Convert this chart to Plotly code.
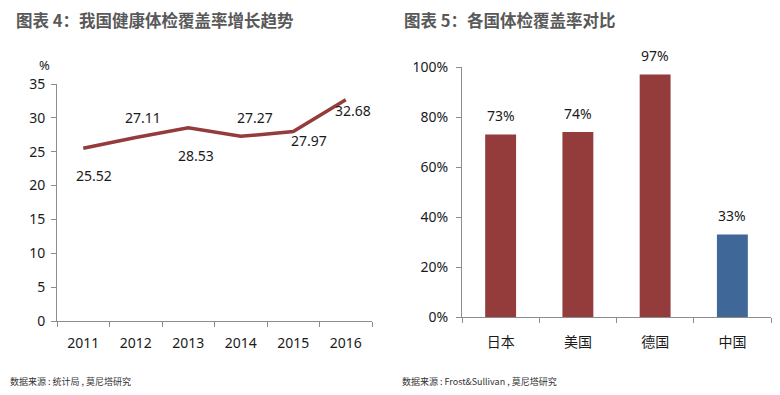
import plotly.graph_objects as go

years = ["2011", "2012", "2013", "2014", "2015", "2016"]
coverage_cn = [25.52, 27.11, 28.53, 27.27, 27.97, 32.68]
line_label_dy = [-27, 20, -28, 19, -9, -11]
line_label_dx = [11, 7, 8, 14, 16, 7]

countries = ["日本", "美国", "德国", "中国"]
coverage_country = [0.73, 0.74, 0.97, 0.33]
bar_labels = ["73%", "74%", "97%", "33%"]

left_ticks = [0, 5, 10, 15, 20, 25, 30, 35]

RED = "#943b3b"
BLUE = "#3f6898"
AX = "#8c8c8c"
TXT = "#1a1a1a"
FONT = "Noto Sans, Noto Sans CJK SC, sans-serif"
CJK = "Noto Sans CJK SC, sans-serif"

# page body has an 8px margin: figure is drawn offset by it
OFF = 8
W, H = 780 - OFF, 395 - OFF


def px(x):
    return (x - OFF) / W


def py(y):
    return 1 - (y - OFF) / H


fig = go.Figure()

fig.add_trace(go.Scatter(
    x=years, y=coverage_cn, mode="lines",
    line=dict(color=RED, width=3.5),
    xaxis="x", yaxis="y", hoverinfo="skip", showlegend=False,
))

bar_colors = [RED, RED, RED, BLUE]
fig.add_trace(go.Bar(
    x=countries, y=coverage_country, marker=dict(color=bar_colors, line=dict(width=0)),
    width=0.4, xaxis="x2", yaxis="y2", hoverinfo="skip", showlegend=False,
))

annotations = []
for i, (v, dy, dx) in enumerate(zip(coverage_cn, line_label_dy, line_label_dx)):
    annotations.append(dict(
        x=i, y=v, xref="x", yref="y", text=f"{v:.2f}", showarrow=False,
        yshift=dy, xshift=dx, font=dict(family=FONT, size=14, color=TXT),
    ))
for i, (v, lab) in enumerate(zip(coverage_country, bar_labels)):
    annotations.append(dict(
        x=i, y=v, xref="x2", yref="y2", text=lab, showarrow=False,
        yshift=19, font=dict(family=FONT, size=14, color=TXT),
    ))

paper_notes = [
    dict(x=14, y=20, text="<b>图表 4：我国健康体检覆盖率增长趋势</b>",
         font=dict(family=CJK, size=16.5, color="#595959")),
    dict(x=402, y=20, text="<b>图表 5：各国体检覆盖率对比</b>",
         font=dict(family=CJK, size=16.5, color="#595959")),
    dict(x=37, y=65, text="%", font=dict(family=FONT, size=13, color=TXT)),
    dict(x=8, y=381, text="数据来源 : 统计局 , 莫尼塔研究",
         font=dict(family=CJK, size=9, color="#333333")),
    dict(x=400, y=381, text="数据来源 : Frost&amp;Sullivan , 莫尼塔研究",
         font=dict(family=CJK, size=9, color="#333333")),
]
for a in paper_notes:
    a.update(xref="paper", yref="paper", showarrow=False, xanchor="left", yanchor="middle",
             x=px(a["x"]), y=py(a["y"]))
    annotations.append(a)

fig.update_layout(
    width=W, height=H, margin=dict(l=0, r=0, t=0, b=0),
    paper_bgcolor="white", plot_bgcolor="white",
    font=dict(family=FONT, size=13, color=TXT),
    annotations=annotations,
    xaxis=dict(domain=[px(57), px(372)], type="category", anchor="y", range=[-0.5, 5.5],
               showline=True, linecolor=AX, linewidth=1, showgrid=False, automargin=False,
               ticks="outside", ticklen=5, tickcolor=AX, tickson="boundaries", tickangle=0,
               ticklabelstandoff=9,
               tickfont=dict(family=FONT, size=14, color=TXT), fixedrange=True),
    yaxis=dict(domain=[py(321), py(84)], range=[0, 35], anchor="x",
               tickvals=left_ticks, showline=True, linecolor=AX, linewidth=1, automargin=False,
               showgrid=False, zeroline=False, ticks="outside", ticklen=5, tickcolor=AX,
               ticklabelstandoff=3,
               tickfont=dict(family=FONT, size=14, color=TXT), fixedrange=True),
    xaxis2=dict(domain=[px(462), px(771)], type="category", anchor="y2", range=[-0.5, 3.5],
                showline=True, linecolor=AX, linewidth=1, showgrid=False, automargin=False,
                ticks="outside", ticklen=5, tickcolor=AX, tickson="boundaries", tickangle=0,
                ticklabelstandoff=12,
                tickfont=dict(family=CJK, size=14, color=TXT), fixedrange=True),
    yaxis2=dict(domain=[py(317), py(67)], range=[0, 1], anchor="x2",
                tickvals=[0, 0.2, 0.4, 0.6, 0.8, 1.0], tickformat=".0%", automargin=False,
                showline=True, linecolor=AX, linewidth=1, showgrid=False, zeroline=False,
                ticks="outside", ticklen=5, tickcolor=AX, ticklabelstandoff=5,
                tickfont=dict(family=FONT, size=14, color=TXT), fixedrange=True),
)

fig.write_html("out.html")
